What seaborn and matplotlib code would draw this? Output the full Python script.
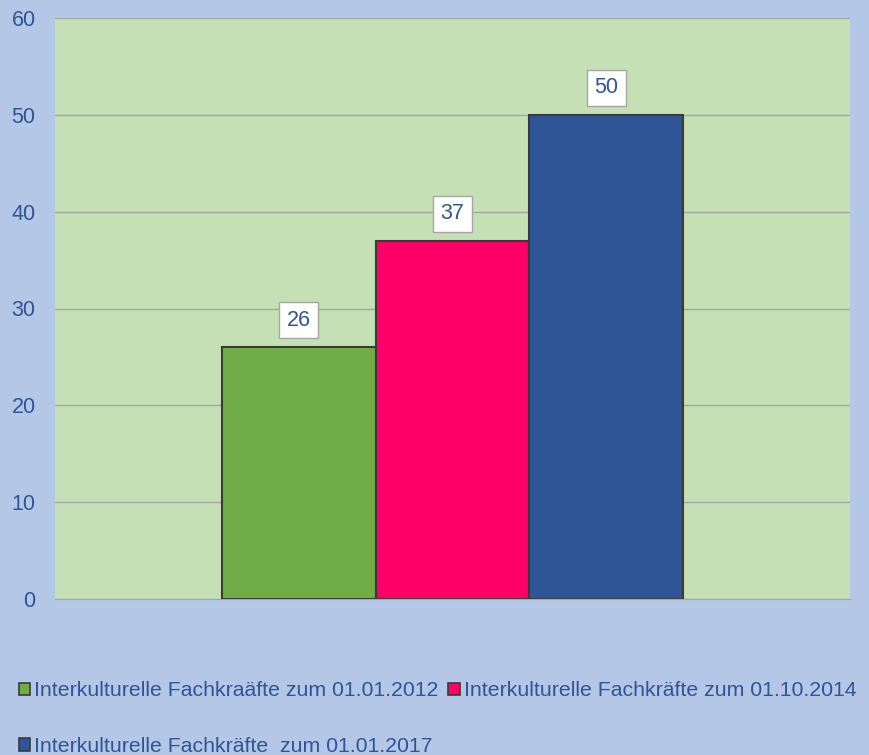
import pandas as pd
import matplotlib
matplotlib.use('Agg')
import matplotlib.pyplot as plt
import seaborn as sns
from matplotlib.patches import Patch

# dados
gruppen = ['Interkulturelle Fachkraäfte zum 01.01.2012',
           'Interkulturelle Fachkräfte zum 01.10.2014',
           'Interkulturelle Fachkräfte  zum 01.01.2017']
werte = [26, 37, 50]
farben = ['#70AD47', '#FF0066', '#2F5597']
y_ticks = [0, 10, 20, 30, 40, 50, 60]

df = pd.DataFrame({'kat': [''] * 3, 'gruppe': gruppen, 'wert': werte})

sns.set_style('white')
plt.rcParams['font.family'] = ['Liberation Sans', 'DejaVu Sans']
text_farbe = '#2F5597'

fig = plt.figure(figsize=(8.69, 7.55), dpi=100)
fig.patch.set_facecolor('#B4C7E7')
ax = fig.add_axes([55 / 869, 1 - 599 / 755, 795 / 869, 581 / 755])
ax.set_facecolor('#C5E0B4')

sns.barplot(data=df, x='kat', y='wert', hue='gruppe', hue_order=gruppen,
            palette=farben, width=0.58, saturation=1, edgecolor='#3A3A3A',
            linewidth=1.5, legend=False, ax=ax)

ax.set_xlim(-0.5, 0.5)
ax.set_ylim(0, 60)
ax.set_yticks(y_ticks)
ax.yaxis.grid(True, color='#A6A6A6', linewidth=1)
ax.set_axisbelow(True)
for s in ['left', 'right', 'top']:
    ax.spines[s].set_visible(False)
ax.spines['bottom'].set_color('#A6A6A6')
ax.set_xticks([])
ax.set_xlabel('')
ax.set_ylabel('')
ax.tick_params(axis='y', length=0, pad=14, labelsize=15.5, labelcolor=text_farbe)

# rótulos dos valores
for bar, v in zip(ax.patches, werte):
    x = bar.get_x() + bar.get_width() / 2
    ax.annotate(str(v), (x, v), xytext=(0, 12), textcoords='offset points',
                ha='center', va='bottom', fontsize=15.5, color=text_farbe,
                bbox=dict(boxstyle='square,pad=0.35', fc='white', ec='#A6A6A6', lw=1))

# legenda
handles = [Patch(facecolor=c, edgecolor='#3A3A3A', linewidth=1.2) for c in farben]
ordem = [0, 2, 1]
fig.legend([handles[i] for i in ordem], [gruppen[i] for i in ordem],
           loc='upper left', bbox_to_anchor=(10 / 869, 1 - 673 / 755), ncol=2,
           frameon=False, fontsize=15.3, labelcolor=text_farbe,
           handlelength=0.55, handleheight=0.55, handletextpad=0.2,
           columnspacing=0.45, labelspacing=1.72, borderaxespad=0)

plt.savefig('out.png', dpi=100, facecolor=fig.get_facecolor())
